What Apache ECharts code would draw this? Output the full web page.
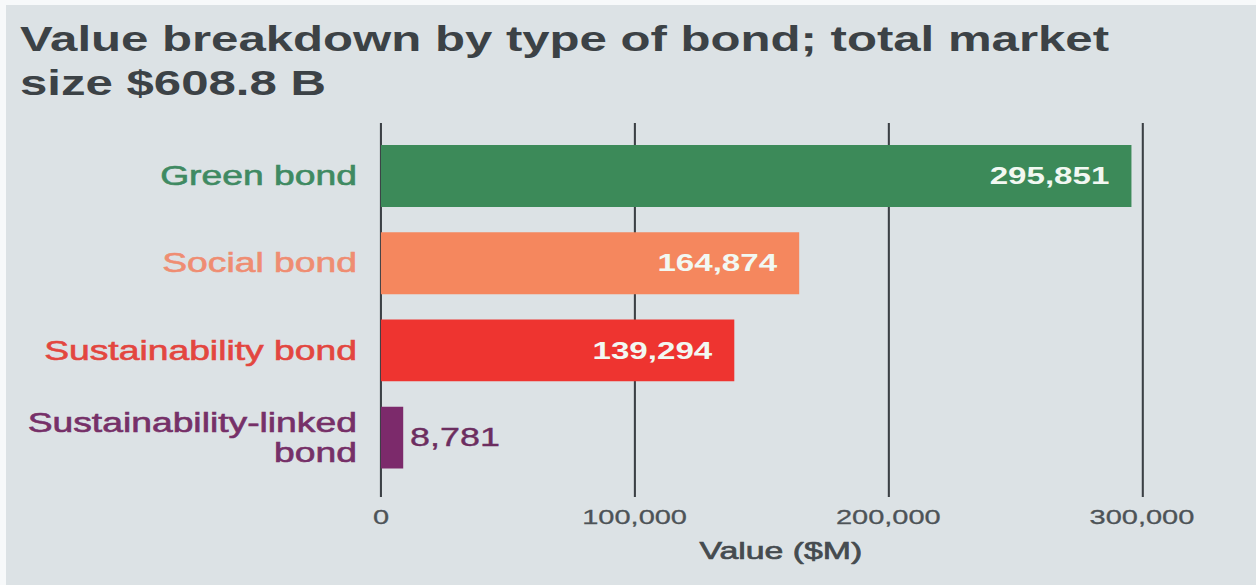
<!DOCTYPE html>
<html>
<head>
<meta charset="utf-8">
<script src="https://cdn.jsdelivr.net/npm/echarts@6/dist/echarts.min.js"></script>
<style>
  html, body { margin: 0; padding: 0; background: #ffffff; overflow: hidden; }
  #stage { position: relative; width: 1256px; height: 585px; overflow: hidden; background: #dce2e5; }
  /* thin white page edge along the top and the left */
  #stage::before { content: ''; position: absolute; left: 0; top: 0; width: 100%; height: 5px; background: #f7f9fa; z-index: 2; }
  #stage::after { content: ''; position: absolute; left: 0; top: 0; width: 6px; height: 100%; background: #f7f9fa; z-index: 2; }
  /* the chart is laid out in a narrower box and widened to the page */
  #chart { width: 910px; height: 585px; transform: scaleX(1.3802); transform-origin: 0 0; }
</style>
</head>
<body>
<div id="stage"><div id="chart"></div></div>
<script>
// Value by type of bond, in $M
const categories = ['Green bond', 'Social bond', 'Sustainability bond', 'Sustainability-linked\nbond'];
const values = [295851, 164874, 139294, 8781];
const barColors = ['#3c8a59', '#f5875e', '#ee3430', '#7c2a6b'];
const labelColors = ['#3f8a62', '#ef8d72', '#e3463f', '#763068'];

// value axis ticks
const axisMin = 0;
const axisMax = 300000;
const axisStep = 100000;

const FONT = '"Liberation Sans", Arial, Helvetica, sans-serif';
const gridLeft = 276;
const gridRight = 82.6;

const chart = echarts.init(document.getElementById('chart'), null, { renderer: 'svg' });

const barData = values.map((v, i) => {
  const small = v < 50000;
  return {
    value: v,
    itemStyle: { color: barColors[i] },
    label: small
      ? { position: 'right', distance: 5, color: '#6c2d5f', fontWeight: 'normal', fontSize: 26,
          textBorderColor: '#6c2d5f', textBorderWidth: 0.4 }
      : { position: 'insideRight', distance: 16, color: '#f2f8f2', fontWeight: 'bold', fontSize: 24 }
  };
});

// one rich style per category, so each name gets its own colour
const catRich = {};
labelColors.forEach((c, i) => {
  catRich['c' + i] = {
    fontFamily: FONT,
    fontSize: 27,
    lineHeight: 30,
    color: c,
    textBorderColor: c,
    textBorderWidth: 0.6,
    align: 'right'
  };
});

chart.setOption({
  backgroundColor: '#dce2e5',
  animation: false,
  title: {
    text: 'Value breakdown by type of bond; total market\nsize $608.8 B',
    left: 14.5,
    top: 17,
    padding: 0,
    textStyle: {
      fontFamily: FONT,
      fontSize: 35.6,
      fontWeight: 'bold',
      lineHeight: 44,
      color: '#3c4246'
    }
  },
  grid: [
    // gridlines and tick labels
    { left: gridLeft, right: gridRight, top: 123, height: 374 },
    // bars
    { left: gridLeft, right: gridRight, top: 132.4, height: 348.8 }
  ],
  xAxis: [
    {
      gridIndex: 0,
      type: 'value',
      min: axisMin,
      max: axisMax,
      interval: axisStep,
      axisLine: { show: false },
      axisTick: { show: false },
      splitLine: { show: true, lineStyle: { color: '#3b4045', width: 1.5 } },
      axisLabel: {
        fontFamily: FONT, fontSize: 21, color: '#4d5357', margin: 9,
        textBorderColor: '#4d5357', textBorderWidth: 0.3
      },
      name: 'Value ($M)',
      nameLocation: 'middle',
      nameGap: 41,
      nameTextStyle: {
        fontFamily: FONT, fontSize: 24.5, fontWeight: 'normal', color: '#454b4f',
        textBorderColor: '#454b4f', textBorderWidth: 0.7,
        padding: [0, 0, 0, 28]
      }
    },
    {
      gridIndex: 1,
      type: 'value',
      min: axisMin,
      max: axisMax,
      interval: axisStep,
      show: false
    }
  ],
  yAxis: [
    { gridIndex: 0, type: 'value', min: 0, max: 1, show: false },
    {
      gridIndex: 1,
      type: 'category',
      data: categories,
      inverse: true,
      axisLine: { show: false },
      axisTick: { show: false },
      axisLabel: {
        margin: 17.4,
        align: 'right',
        lineHeight: 30,
        formatter: (value, index) =>
          value.split('\n').map(line => '{c' + index + '|' + line + '}').join('\n'),
        rich: catRich
      }
    }
  ],
  series: [
    {
      type: 'bar',
      xAxisIndex: 1,
      yAxisIndex: 1,
      barCategoryGap: '29%',
      data: barData,
      label: {
        show: true,
        fontFamily: FONT,
        formatter: p => p.value.toLocaleString('en-US')
      }
    }
  ]
});
</script>
</body>
</html>
